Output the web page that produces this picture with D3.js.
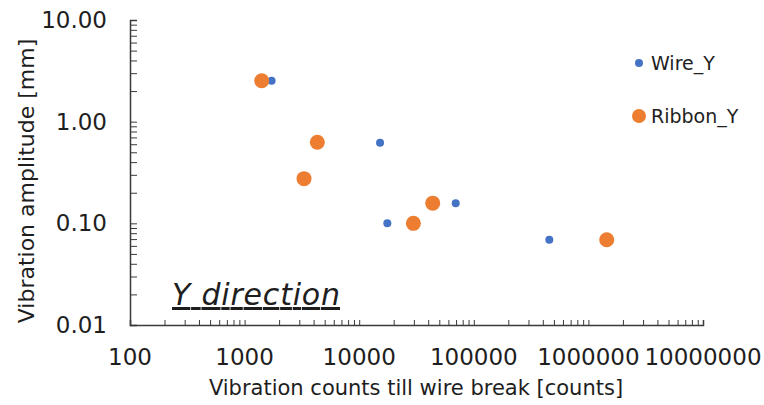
<!DOCTYPE html>
<html>
<head>
<meta charset="utf-8">
<script src="https://cdn.jsdelivr.net/npm/d3@7"></script>
<style>
  body { margin: 0; background: #fff; }
  svg { display: block; }
  text { font-family: "DejaVu Sans", sans-serif; fill: #1e1e1e; }
</style>
</head>
<body>
<div class="chart"></div>
<script>
const width = 764;
const height = 405;

// data
const wireX = [1720, 15200, 17600, 69500, 456000];
const wireY = [2.53, 0.62, 0.100, 0.158, 0.069];
const ribbonX = [1410, 4310, 3300, 43800, 29700, 1445000];
const ribbonY = [2.53, 0.627, 0.275, 0.158, 0.100, 0.069];
const xTicks = [100, 1000, 10000, 100000, 1000000, 10000000];
const yTicks = [0.01, 0.1, 1, 10];
const seriesNames = ['Wire_Y', 'Ribbon_Y'];


buildChart();


function buildChart() {

    const svg = d3.select('.chart')
        .append('svg')
        .attr('width', width)
        .attr('height', height);

    const x = d3.scaleLog()
        .domain([100, 10000000])
        .range([130, 703]);

    const y = d3.scaleLog()
        .domain([0.01, 10])
        .range([325, 20]);

    const color = d3.scaleOrdinal()
        .domain(seriesNames)
        .range(['#4472C4', '#ED7D31']);

    // minor ticks 2..9 inside each decade
    let xMinor = [];
    for (let d = 100; d < 10000000; d *= 10) {
        for (let k = 2; k <= 10; k++) xMinor.push(d * k);
    }
    let yMinor = [];
    for (let d = 0.01; d < 9; d *= 10) {
        for (let k = 2; k <= 10; k++) yMinor.push(+(d * k).toPrecision(3));
    }

    const xAxis = svg.append('g')
        .attr('transform', 'translate(0, 325)')
        .call(d3.axisBottom(x)
            .tickValues(xMinor)
            .tickSize(-5)
            .tickFormat(''));

    const yAxis = svg.append('g')
        .attr('transform', 'translate(130, 0)')
        .call(d3.axisLeft(y)
            .tickValues(yMinor)
            .tickSize(-7)
            .tickFormat(''));

    [xAxis, yAxis].forEach((g) => {
        g.select('.domain').attr('stroke', '#3a3a3a').attr('stroke-width', 1.5);
        g.selectAll('.tick line').attr('stroke', '#3a3a3a');
    });

    svg.append('g')
        .selectAll('text')
        .data(xTicks)
        .enter()
        .append('text')
        .attr('x', (d) => x(d))
        .attr('y', 365)
        .attr('text-anchor', 'middle')
        .attr('font-size', 23)
        .text((d) => d);

    svg.append('g')
        .selectAll('text')
        .data(yTicks)
        .enter()
        .append('text')
        .attr('x', 107)
        .attr('y', (d) => y(d) + 8)
        .attr('text-anchor', 'end')
        .attr('font-size', 23)
        .text((d) => d.toFixed(2));

    svg.append('text')
        .attr('x', 416)
        .attr('y', 395)
        .attr('text-anchor', 'middle')
        .attr('font-size', 21)
        .text('Vibration counts till wire break [counts]');

    svg.append('text')
        .attr('transform', 'translate(34, 181) rotate(-90)')
        .attr('text-anchor', 'middle')
        .attr('font-size', 22)
        .text('Vibration amplitude [mm]');

    // wire first, ribbon on top
    svg.append('g')
        .selectAll('circle')
        .data(wireX.map((v, i) => [v, wireY[i]]))
        .enter()
        .append('circle')
        .attr('cx', (d) => x(d[0]))
        .attr('cy', (d) => y(d[1]))
        .attr('r', 4)
        .attr('fill', color('Wire_Y'));

    svg.append('g')
        .selectAll('circle')
        .data(ribbonX.map((v, i) => [v, ribbonY[i]]))
        .enter()
        .append('circle')
        .attr('cx', (d) => x(d[0]))
        .attr('cy', (d) => y(d[1]))
        .attr('r', 7.5)
        .attr('fill', color('Ribbon_Y'));

    // legend
    let legend = svg.append('g')
        .selectAll('g')
        .data(seriesNames)
        .enter()
        .append('g')
        .attr('transform', (d, i) => `translate(639, ${63 + i * 53})`);

    legend.append('circle')
        .attr('r', (d, i) => i === 0 ? 4 : 7)
        .attr('fill', (d) => color(d));

    legend.append('text')
        .attr('x', 12)
        .attr('y', 7)
        .attr('font-size', 19)
        .text((d) => d);

    svg.append('text')
        .attr('x', 172)
        .attr('y', 305)
        .attr('font-size', 30)
        .attr('font-style', 'italic')
        .attr('text-decoration', 'underline')
        .attr('textLength', 168)
        .text('Y direction');
}
</script>
</body>
</html>
